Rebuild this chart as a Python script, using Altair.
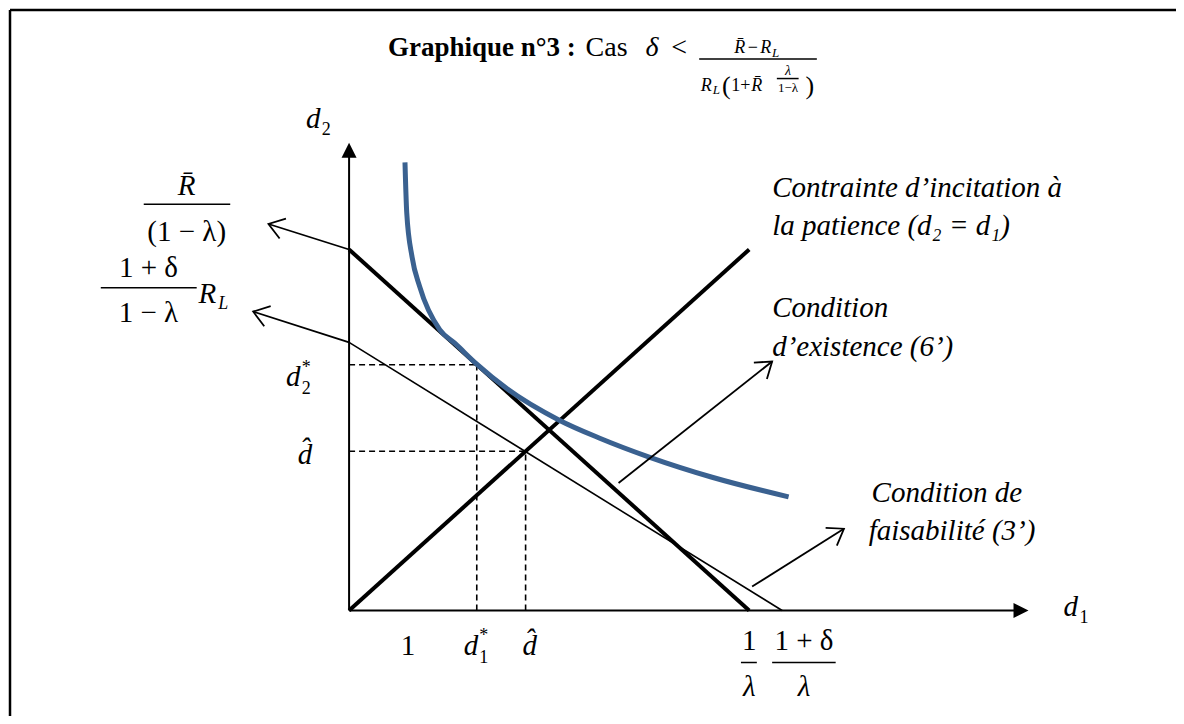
import math
import altair as alt
import pandas as pd

# ---------- values (d1 on x, d2 on y) ----------
incentive_d1 = [0.0, 6.8]          # d2 = d1
incentive_d2 = [0.0, 6.8]
budget_d1 = [0.0, 6.8]             # R̄/(1-λ)  ->  1/λ
budget_d2 = [6.8, 0.0]
feasible_d1 = [0.0, 7.36]          # (1+δ)R_L/(1-λ)  ->  (1+δ)/λ
feasible_d2 = [5.05, 0.0]
curve_d1 = [0.95, 0.98, 1.07, 1.20, 1.54, 1.80, 2.17, 2.68, 3.58, 4.25, 5.10, 6.17, 7.47]
curve_d2 = [8.44, 7.49, 6.66, 6.10, 5.29, 5.03, 4.64, 4.18, 3.58, 3.25, 2.89, 2.51, 2.14]
d1_star, d2_star = 2.17, 4.63
d_hat = 3.0
d1_axis_end, d2_axis_end = 11.32, 8.54
d1_head, d2_head = 11.42, 8.67

# annotation arrows: start -> tip (diagram units)
arrow_x0 = [0.0, 0.0, 4.58, 6.85]
arrow_y0 = [6.8, 5.05, 2.40, 0.45]
arrow_x1 = [-1.37, -1.63, 7.19, 8.41]
arrow_y1 = [7.28, 5.63, 4.69, 1.54]

# ---------- layout ----------
W, H = 1168, 708
X_DOM = [-5.78, 14.02]
Y_DOM = [-1.95, 11.33]
PX_X = W / (X_DOM[1] - X_DOM[0])
PX_Y = H / (Y_DOM[1] - Y_DOM[0])
SERIF = "Liberation Serif"

xs = alt.Scale(domain=X_DOM, nice=False, zero=False)
ys = alt.Scale(domain=Y_DOM, nice=False, zero=False)


def X(f="x"):
    return alt.X(f"{f}:Q", scale=xs, axis=None)


def Y(f="y"):
    return alt.Y(f"{f}:Q", scale=ys, axis=None)


def rules(x1, y1, x2, y2, **kw):
    df = pd.DataFrame({"x": x1, "y": y1, "x2": x2, "y2": y2})
    return alt.Chart(df).mark_rule(**kw).encode(
        x=X("x"), y=Y("y"), x2="x2:Q", y2="y2:Q")


def texts(rows, **kw):
    df = pd.DataFrame(rows, columns=["t", "x", "y", "s"])
    return alt.Chart(df).mark_text(baseline="alphabetic", font=SERIF, color="black", **kw).encode(
        x=X("x"), y=Y("y"), text="t:N",
        size=alt.Size("s:Q", scale=None, legend=None))


def screen_angle(x0, y0, x1, y1):
    return math.degrees(math.atan2(-(y1 - y0) * PX_Y, (x1 - x0) * PX_X)) % 360


# straight lines
thick = rules([incentive_d1[0], budget_d1[0]], [incentive_d2[0], budget_d2[0]],
              [incentive_d1[1], budget_d1[1]], [incentive_d2[1], budget_d2[1]],
              color="black", strokeWidth=4, strokeCap="butt")
thin = rules([feasible_d1[0]], [feasible_d2[0]], [feasible_d1[1]], [feasible_d2[1]],
             color="black", strokeWidth=1.6)
axes = rules([0, 0], [0, 0], [d1_axis_end, 0], [0, d2_axis_end], color="black", strokeWidth=2)
dashed = rules([0, d1_star, 0, d_hat], [d2_star, 0, d_hat, 0],
               [d1_star, d1_star, d_hat, d_hat], [d2_star, d2_star, d_hat, d_hat],
               color="black", strokeWidth=1.6, strokeDash=[6, 4])
arrow_lines = rules(arrow_x0, arrow_y0, arrow_x1, arrow_y1, color="black", strokeWidth=1.8)

heads_df = pd.DataFrame({
    "x": arrow_x1, "y": arrow_y1,
    "a": [screen_angle(a, b, c, d) for a, b, c, d in zip(arrow_x0, arrow_y0, arrow_x1, arrow_y1)],
})
open_heads = alt.Chart(heads_df).mark_point(
    shape="M-1,-0.7L0,0L-1,0.7", filled=False, color="black", strokeWidth=1.8,
    size=900, opacity=1).encode(x=X("x"), y=Y("y"), angle=alt.Angle("a:Q", scale=None))

axis_heads_df = pd.DataFrame({"x": [d1_head, 0], "y": [0, d2_head], "a": [0, 270]})
axis_heads = alt.Chart(axis_heads_df).mark_point(
    shape="M-1,-1L1,0L-1,1Z", filled=True, color="black", size=225, opacity=1).encode(
    x=X("x"), y=Y("y"), angle=alt.Angle("a:Q", scale=None))

curve = alt.Chart(pd.DataFrame({"x": curve_d1, "y": curve_d2})).mark_line(
    color="#3A6190", strokeWidth=5, interpolate="monotone").encode(x=X("x"), y=Y("y"), order="x:Q")

# fraction bars
bars = rules([5.95, 7.27, -3.49, -4.22, 6.66, 7.19],
             [10.39, 10.02, 7.65, 6.08, -0.98, -0.98],
             [7.95, 7.64, -2.02, -2.59, 6.93, 8.27],
             [10.39, 10.02, 7.65, 6.08, -0.98, -0.98],
             color="black", strokeWidth=1.5)

# frame of the figure
frame = alt.layer(
    alt.Chart().mark_rule(color="black", strokeWidth=2.5).encode(
        x=alt.value(1), x2=alt.value(W), y=alt.value(1)),
    alt.Chart().mark_rule(color="black", strokeWidth=2.5).encode(
        x=alt.value(1), y=alt.value(1), y2=alt.value(H)),
)

bold_left = texts([["Graphique n°3 :", 0.66, 10.45, 27]], align="left", fontWeight="bold")
regular_left = texts([["Cas", 4.02, 10.45, 28]], align="left")

italic_left = texts([
    ["Contrainte d’incitation à", 7.19, 7.79, 29],
    ["la patience (d₂ = d₁)", 7.19, 7.07, 29],
    ["Condition", 7.19, 5.52, 29],
    ["d’existence (6’)", 7.19, 4.80, 29],
    ["Condition de", 8.88, 2.05, 29],
    ["faisabilité (3’)", 8.83, 1.33, 29],
    ["d", 12.14, -0.11, 29],
], align="left", fontStyle="italic")

italic_center = texts([
    ["δ", 5.15, 10.45, 28],
    ["R\u0304", 6.64, 10.51, 18],
    ["R", 7.08, 10.51, 18],
    ["L", 7.25, 10.43, 13],
    ["R", 6.07, 9.79, 18],
    ["L", 6.24, 9.72, 13],
    ["R\u0304", 6.93, 9.79, 18],
    ["λ", 7.46, 10.08, 14],
    ["R\u0304", -2.76, 7.82, 29],
    ["R", -2.41, 5.80, 29],
    ["L", -2.14, 5.68, 18],
    ["d", -0.95, 4.22, 29],
    ["d\u0302", -0.75, 2.76, 29],
    ["d", -0.61, 9.08, 29],
    ["d", 2.07, -0.84, 29],
    ["d\u0302", 3.07, -0.84, 29],
    ["λ", 6.8, -1.61, 29],
    ["λ", 7.73, -1.61, 29],
], align="center", fontStyle="italic")

regular_center = texts([
    ["<", 5.61, 10.45, 28],
    ["−", 6.86, 10.51, 18],
    ["(", 6.41, 9.72, 26],
    ["1+", 6.66, 9.79, 18],
    ["1−λ", 7.46, 9.77, 13],
    [")", 7.83, 9.72, 26],
    ["(1 − λ)", -2.76, 6.96, 29],
    ["1 +  δ", -3.41, 6.29, 29],
    ["1 − λ", -3.41, 5.44, 29],
    ["*", -0.73, 4.48, 18],
    ["2", -0.73, 4.07, 18],
    ["2", -0.39, 8.95, 18],
    ["1", 1.0, -0.84, 29],
    ["*", 2.29, -0.58, 18],
    ["1", 2.29, -0.98, 18],
    ["1", 6.8, -0.75, 29],
    ["1 + δ", 7.73, -0.75, 29],
    ["1", 12.49, -0.24, 18],
], align="center")

chart = alt.layer(
    frame, axes, axis_heads, dashed, thin, thick, curve, arrow_lines, open_heads, bars,
    bold_left, regular_left, italic_left, italic_center, regular_center,
).properties(
    width=W, height=H, padding=0,
    autosize=alt.AutoSizeParams(type="fit", contains="padding"),
).configure_view(stroke=None)

chart.save("out.html", embed_options={"renderer": "svg", "actions": False})
